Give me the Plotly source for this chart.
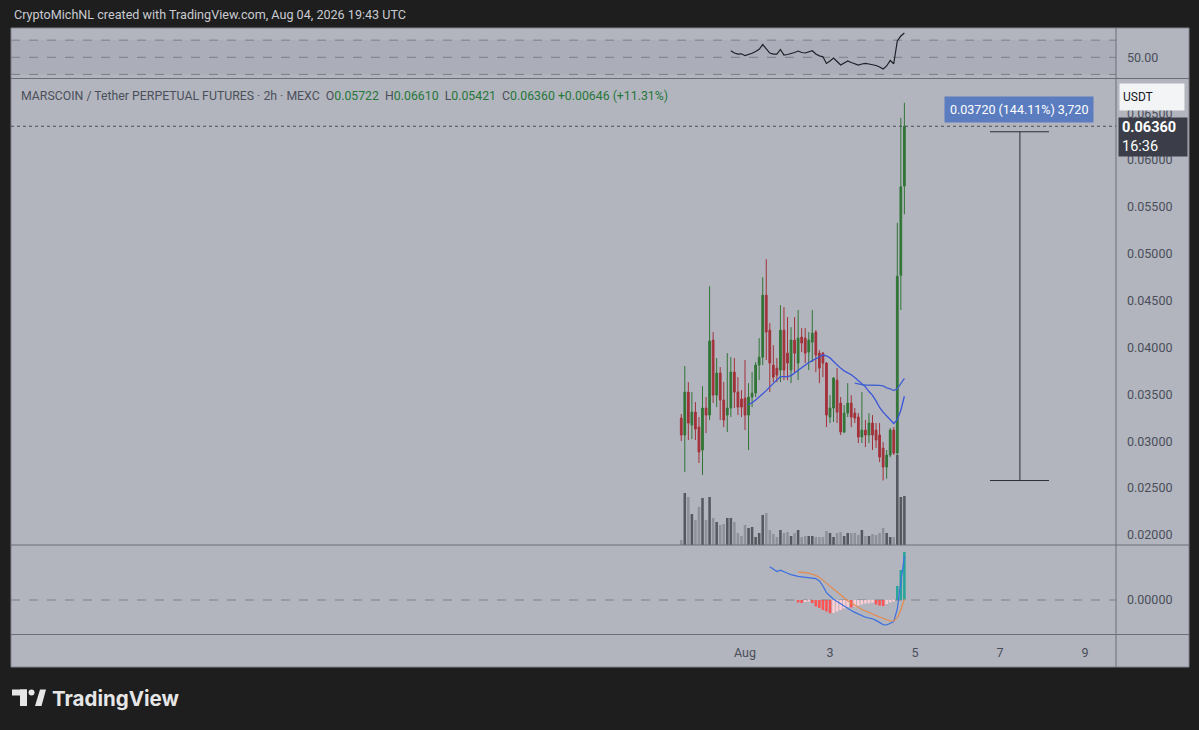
import plotly.graph_objects as go
import pandas as pd

W, H = 1199, 730

# ---------------- data ----------------
start_time = "2026-07-30 12:00"   # first 2h candle
opens = [0.03247, 0.03066, 0.03524, 0.03173, 0.03311, 0.03151, 0.02906, 0.03354, 0.03279, 0.04079,
         0.03492, 0.03727, 0.03439, 0.03279, 0.03354, 0.03738, 0.03524, 0.03450, 0.03460, 0.03279,
         0.03471, 0.03514, 0.03812, 0.03897, 0.04558, 0.04185, 0.03812, 0.03780, 0.03759, 0.04185,
         0.03940, 0.03759, 0.04079, 0.03834, 0.04111, 0.04100, 0.03951, 0.04057, 0.04164, 0.03940,
         0.03940, 0.03834, 0.03258, 0.03354, 0.03652, 0.03407, 0.03098, 0.03300, 0.03407, 0.03300,
         0.03258, 0.03045, 0.03119, 0.03066, 0.03194, 0.03119, 0.03066, 0.02927, 0.02725, 0.02853,
         0.03119, 0.02874, 0.04770, 0.05722]
highs = [0.03290, 0.03802, 0.03631, 0.03524, 0.03418, 0.03258, 0.03588, 0.03471, 0.04654, 0.04164,
         0.03887, 0.03791, 0.03631, 0.03940, 0.03897, 0.03887, 0.03684, 0.03546, 0.03866, 0.03620,
         0.03738, 0.03844, 0.04100, 0.04750, 0.04942, 0.04260, 0.04025, 0.03887, 0.04452, 0.04431,
         0.04324, 0.04217, 0.04324, 0.04399, 0.04207, 0.04207, 0.04164, 0.04399, 0.04185, 0.03972,
         0.03951, 0.03844, 0.03492, 0.03684, 0.03780, 0.03471, 0.03386, 0.03620, 0.03492, 0.03354,
         0.03300, 0.03524, 0.03226, 0.03300, 0.03279, 0.03194, 0.03194, 0.02991, 0.02906, 0.03141,
         0.03151, 0.05330, 0.06450, 0.06610]
lows = [0.03002, 0.02672, 0.03013, 0.03023, 0.03013, 0.02768, 0.02640, 0.03087, 0.03226, 0.03407,
        0.03364, 0.03226, 0.03151, 0.03098, 0.03258, 0.03354, 0.03279, 0.03258, 0.03119, 0.02906,
        0.03364, 0.03471, 0.03652, 0.03812, 0.03866, 0.03524, 0.03631, 0.03631, 0.03631, 0.03652,
        0.03652, 0.03620, 0.03738, 0.03652, 0.03951, 0.03834, 0.03759, 0.03844, 0.03738, 0.03620,
        0.03684, 0.03151, 0.03194, 0.03205, 0.03194, 0.03066, 0.03087, 0.03258, 0.03151, 0.03194,
        0.02981, 0.02981, 0.02938, 0.02981, 0.02906, 0.02927, 0.02778, 0.02581, 0.02600, 0.02831,
        0.02853, 0.02800, 0.04400, 0.05421]
closes = [0.03066, 0.03524, 0.03194, 0.03311, 0.03130, 0.02885, 0.03354, 0.03279, 0.04068, 0.03492,
          0.03727, 0.03439, 0.03226, 0.03354, 0.03738, 0.03524, 0.03364, 0.03364, 0.03279, 0.03471,
          0.03514, 0.03812, 0.03897, 0.04558, 0.04164, 0.03834, 0.03684, 0.03706, 0.04185, 0.03759,
          0.03834, 0.04079, 0.03940, 0.04100, 0.04047, 0.03940, 0.04079, 0.04153, 0.03919, 0.03780,
          0.03834, 0.03279, 0.03354, 0.03674, 0.03311, 0.03098, 0.03300, 0.03407, 0.03258, 0.03247,
          0.03045, 0.03119, 0.03066, 0.03194, 0.03066, 0.03013, 0.02831, 0.02725, 0.02853, 0.03119,
          0.02874, 0.04760, 0.05714, 0.06360]
volumes_m = [0.5, 5.2, 4.8, 3.1, 2.5, 3.8, 4.7, 2.5, 4.8, 2.7,
             2.3, 2.0, 2.1, 2.7, 2.7, 2.3, 1.2, 0.9, 2.0, 1.7,
             1.8, 0.8, 1.2, 3.0, 3.2, 1.5, 1.1, 0.8, 1.5, 1.2,
             1.3, 0.9, 1.2, 1.5, 0.8, 0.9, 0.9, 0.9, 0.8, 0.8,
             0.8, 1.4, 1.2, 0.8, 1.2, 1.3, 0.9, 1.2, 1.2, 1.2,
             1.0, 1.5, 0.9, 0.9, 1.1, 1.0, 1.2, 1.7, 1.2, 0.8,
             0.8, 9.0, 4.8, 4.9]

ma20_start = 19
ma20 = [0.0339, 0.0341, 0.0344, 0.0347, 0.0351, 0.0354, 0.0358, 0.0362, 0.0365, 0.0369,
        0.0369, 0.0369, 0.0370, 0.0373, 0.0376, 0.0379, 0.0381, 0.0384, 0.0386, 0.0388,
        0.0390, 0.0392, 0.0391, 0.0389, 0.0385, 0.0381, 0.0378, 0.0375, 0.0373, 0.0371,
        0.0368, 0.0365, 0.0362, 0.0358, 0.0353, 0.0349, 0.0343, 0.0336, 0.0331, 0.0327,
        0.0323, 0.0319, 0.0323, 0.0333, 0.0348]
ma50_start = 49
ma50 = [0.0362, 0.0361, 0.03605, 0.0360, 0.0360, 0.0360, 0.0360, 0.03595, 0.0359, 0.0357,
        0.0356, 0.0354, 0.0356, 0.0361, 0.0367]

rsi_start = 14
rsi = [57.7, 55.0, 53.8, 54.1, 51.9, 53.1, 54.7, 56.8, 59.4, 64.9,
       60.3, 55.0, 53.8, 53.7, 59.1, 52.7, 53.3, 54.1, 55.6, 57.3,
       55.6, 55.0, 56.2, 57.7, 53.8, 51.7, 50.6, 42.8, 45.7, 49.2,
       45.1, 41.0, 43.4, 45.7, 43.9, 42.2, 41.0, 42.2, 42.8, 42.2,
       41.6, 40.4, 38.7, 36.4, 39.9, 46.3, 42.5, 69.0, 74.8, 78.3]

macd_start = 25
macd = [0.00166, 0.00155, 0.00142, 0.00149, 0.00140, 0.00134, 0.00127, 0.00121, 0.00118, 0.00116,
        0.00114, 0.00113, 0.00112, 0.00107, 0.00095, 0.00070, 0.00037, 0.00020, 0.00004, -0.00007,
        -0.00019, -0.00030, -0.00040, -0.00053, -0.00062, -0.00071, -0.00079, -0.00086, -0.00090, -0.00094,
        -0.00102, -0.00111, -0.00123, -0.00125, -0.00117, -0.00108, -0.00045, 0.00075, 0.00220]
signal_start = 33
signal = [0.00141, 0.00139, 0.00138, 0.00134, 0.00129, 0.00123, 0.00113, 0.00099, 0.00084, 0.00070,
          0.00055, 0.00040, 0.00025, 0.00011, -0.00004, -0.00015, -0.00027, -0.00038, -0.00047, -0.00055,
          -0.00064, -0.00071, -0.00078, -0.00085, -0.00093, -0.00099, -0.00104, -0.00105, -0.00088, -0.00050,
          0.00005]
hist = [-0.00012, -0.00015, -0.00010, -0.00008, -0.00015, -0.00033, -0.00040, -0.00050, -0.00058, -0.00066,
        -0.00065, -0.00058, -0.00050, -0.00042, -0.00034, -0.00038, -0.00032, -0.00027, -0.00022, -0.00018,
        -0.00016, -0.00014, -0.00022, -0.00027, -0.00030, -0.00020, -0.00012, -0.00004, 0.00070, 0.00150,
        0.00240]

price_ticks = [0.020, 0.025, 0.030, 0.035, 0.040, 0.045, 0.050, 0.055, 0.060, 0.065]
time_tick_dates = ["2026-08-01", "2026-08-03", "2026-08-05", "2026-08-07", "2026-08-09"]
time_tick_labels = ["Aug", "3", "5", "7", "9"]

measure_low, measure_high = 0.02581, 0.06301
measure_x0, measure_x1, measure_xm = "2026-08-06 18:20", "2026-08-08 03:40", "2026-08-07 11:15"
measure_text = "0.03720 (144.11%) 3,720"
header_text = "CryptoMichNL created with TradingView.com, Aug 04, 2026 19:43 UTC"
symbol_text = "MARSCOIN / Tether PERPETUAL FUTURES · 2h · MEXC"
countdown = "16:36"

# ---------------- helpers ----------------
times = pd.date_range(start_time, periods=len(opens), freq="2h")
aug1 = pd.Timestamp("2026-08-01")
px_per_day = 42.5


def t_at(px):
    return aug1 + pd.Timedelta(days=(px - 745) / px_per_day)


def py(p):
    return 1 - p / H


def pxx(p):
    return p / W


BG = "#b2b5be"
DARK = "#1e1e1e"
SEP = "#6b6e78"
TXT = "#4a4e5a"
GREEN = "#317536"
RED = "#a3313a"
FONT = "Roboto"

fig = go.Figure()

# volume
vol_colors = ["#55585f" if c >= o else "#8e919a" for o, c in zip(opens, closes)]
fig.add_trace(go.Bar(x=times, y=volumes_m, marker=dict(color=vol_colors, line=dict(width=0)),
                     width=0.72 * 2 * 3600 * 1000, xaxis="x", yaxis="y4", hoverinfo="skip"))

# candles
fig.add_trace(go.Candlestick(x=times, open=opens, high=highs, low=lows, close=closes,
                             increasing=dict(line=dict(color=GREEN, width=1), fillcolor=GREEN),
                             decreasing=dict(line=dict(color=RED, width=1), fillcolor=RED),
                             whiskerwidth=0, xaxis="x", yaxis="y2"))

# moving averages
fig.add_trace(go.Scatter(x=times[ma20_start:ma20_start + len(ma20)], y=ma20, mode="lines",
                         line=dict(color="#3a55d8", width=1.3), xaxis="x", yaxis="y2"))
fig.add_trace(go.Scatter(x=times[ma50_start:ma50_start + len(ma50)], y=ma50, mode="lines",
                         line=dict(color="#3f5fd0", width=1.3), xaxis="x", yaxis="y2"))

# RSI
fig.add_trace(go.Scatter(x=times[rsi_start:rsi_start + len(rsi)], y=rsi, mode="lines",
                         line=dict(color="#1f2128", width=1.2), xaxis="x", yaxis="y"))

# MACD histogram colors
hist_colors = []
prev = None
for v in hist:
    if v >= 0:
        col = "#26a69a" if (prev is None or v >= prev) else "#b2dfdb"
    else:
        col = "#ffcdd2" if (prev is not None and v > prev) else "#ff5252"
    hist_colors.append(col)
    prev = v
fig.add_trace(go.Bar(x=times[signal_start:signal_start + len(hist)], y=hist,
                     marker=dict(color=hist_colors, line=dict(width=0)),
                     width=0.72 * 2 * 3600 * 1000, xaxis="x", yaxis="y3"))
fig.add_trace(go.Scatter(x=times[macd_start:macd_start + len(macd)], y=macd, mode="lines",
                         line=dict(color="#3b6fe0", width=1.2), xaxis="x", yaxis="y3"))
fig.add_trace(go.Scatter(x=times[signal_start:signal_start + len(signal)], y=signal, mode="lines",
                         line=dict(color="#e58a4e", width=1.2), xaxis="x", yaxis="y3"))

# ---------------- axes ----------------
rsi_top, rsi_bot = 28, 78.5
main_top, main_bot = 79.5, 545
macd_top, macd_bot = 545.5, 634

price_per_px = 0.005 / 46.875
main_range = [0.02 - (main_bot - 535) * price_per_px, 0.02 + (535 - main_top) * price_per_px]
rsi_px = 0.8575
rsi_range = [50 - (rsi_bot - 57.3) / rsi_px, 50 + (57.3 - rsi_top) / rsi_px]
macd_px = 0.00005
macd_range = [-(macd_bot - 600) * macd_px, (600 - macd_top) * macd_px]

tickfont = dict(family=FONT, size=12.5, color=TXT)
common_y = dict(side="right", showgrid=False, zeroline=False, showline=False, ticks="",
                ticklabelstandoff=10, tickfont=tickfont, fixedrange=True)

fig.update_layout(
    width=W, height=H, margin=dict(l=0, r=0, t=0, b=0),
    paper_bgcolor=DARK, plot_bgcolor="rgba(0,0,0,0)", showlegend=False,
    xaxis=dict(domain=[pxx(11), pxx(1116)], anchor="y3", type="date",
               range=[t_at(11), t_at(1116)], showgrid=False, zeroline=False, showline=False,
               ticks="", tickvals=pd.to_datetime(time_tick_dates), ticktext=time_tick_labels,
               tickfont=dict(family=FONT, size=12.5, color=TXT), ticklabelstandoff=9,
               rangeslider=dict(visible=False), fixedrange=True),
    yaxis=dict(domain=[py(rsi_bot), py(rsi_top)], anchor="x", range=rsi_range,
               tickvals=[50], ticktext=["50.00"], **common_y),
    yaxis2=dict(domain=[py(main_bot), py(main_top)], anchor="x", range=main_range,
                tickvals=price_ticks, tickformat=".5f", **common_y),
    yaxis3=dict(domain=[py(macd_bot), py(macd_top)], anchor="x", range=macd_range,
                tickvals=[0], ticktext=["0.00000"], **common_y),
    yaxis4=dict(domain=[py(main_bot), py(main_top)], anchor="x", overlaying="y2",
                range=[0, (main_bot - main_top) / 10], visible=False, fixedrange=True),
)

# ---------------- shapes ----------------
shapes = []
shapes.append(dict(type="rect", xref="paper", yref="paper", x0=pxx(11), x1=pxx(1189),
                   y0=py(667), y1=py(28), fillcolor=BG, line=dict(color="#82858f", width=1),
                   layer="below"))
# RSI band
shapes.append(dict(type="rect", xref="paper", yref="y", x0=pxx(11), x1=pxx(1116), y0=30, y1=70,
                   fillcolor="rgba(90,92,110,0.08)", line=dict(width=0), layer="below"))
for lvl in (70, 50, 30):
    shapes.append(dict(type="line", xref="paper", yref="y", x0=pxx(11), x1=pxx(1116), y0=lvl, y1=lvl,
                       line=dict(color="#7c7f89", width=1, dash="dash"), layer="below"))
shapes.append(dict(type="line", xref="paper", yref="y3", x0=pxx(11), x1=pxx(1116), y0=0, y1=0,
                   line=dict(color="#7c7f89", width=1, dash="dash"), layer="below"))
# pane separators
for yy in (78.5, 545, 634.5):
    shapes.append(dict(type="line", xref="paper", yref="paper", x0=pxx(11), x1=pxx(1189),
                       y0=py(yy), y1=py(yy), line=dict(color=SEP, width=1)))
shapes.append(dict(type="line", xref="paper", yref="paper", x0=pxx(1116), x1=pxx(1116),
                   y0=py(667), y1=py(28), line=dict(color=SEP, width=1)))
# current price dotted line
shapes.append(dict(type="line", xref="paper", yref="y2", x0=pxx(11), x1=pxx(1116),
                   y0=closes[-1], y1=closes[-1], line=dict(color="#4a4e5a", width=1, dash="dot")))
# measure tool
mline = dict(color="#2a2e39", width=1)
shapes.append(dict(type="line", xref="x", yref="y2", x0=measure_xm, x1=measure_xm,
                   y0=measure_low, y1=measure_high, line=mline))
for lvl in (measure_low, measure_high):
    shapes.append(dict(type="line", xref="x", yref="y2", x0=measure_x0, x1=measure_x1,
                       y0=lvl, y1=lvl, line=mline))
xm = pd.Timestamp(measure_xm)
dx = pd.Timedelta(hours=2.8)
dy = 6 * price_per_px
shapes.append(dict(type="path", xref="x", yref="y2",
                   path=f"M {(xm - dx).strftime('%Y-%m-%d %H:%M:%S')},{measure_high - dy} "
                        f"L {xm.strftime('%Y-%m-%d %H:%M:%S')},{measure_high} "
                        f"L {(xm + dx).strftime('%Y-%m-%d %H:%M:%S')},{measure_high - dy}",
                   line=mline))
# TradingView logo glyph
logo_col = "#e6e6e6"
shapes.append(dict(type="rect", xref="paper", yref="paper", x0=pxx(12), x1=pxx(27), y0=py(695.5),
                   y1=py(689.5), fillcolor=logo_col, line=dict(width=0)))
shapes.append(dict(type="rect", xref="paper", yref="paper", x0=pxx(20), x1=pxx(27), y0=py(706),
                   y1=py(689.5), fillcolor=logo_col, line=dict(width=0)))
shapes.append(dict(type="circle", xref="paper", yref="paper", x0=pxx(28.5), x1=pxx(34.5),
                   y0=py(695.5), y1=py(689.5), fillcolor=logo_col, line=dict(width=0)))
shapes.append(dict(type="path", xref="paper", yref="paper",
                   path=f"M {pxx(35)},{py(706)} L {pxx(40)},{py(689.5)} L {pxx(46)},{py(689.5)} "
                        f"L {pxx(41.5)},{py(706)} Z", fillcolor=logo_col, line=dict(width=0)))
fig.update_layout(shapes=shapes)

# ---------------- annotations ----------------
green_t = "#26773a"
nb = "\u00a0"


def val(s):
    return f"<span style='color:{green_t}'>{s}</span>"


chg = closes[-1] - closes[-2]
pct = chg / closes[-2] * 100
legend_text = (f"{symbol_text}{nb}{nb}O{val(f'{opens[-1]:.5f}')}{nb}{nb}H{val(f'{highs[-1]:.5f}')}"
               f"{nb}{nb}L{val(f'{lows[-1]:.5f}')}{nb}{nb}C{val(f'{closes[-1]:.5f}')}{nb}"
               f"{val(f'{chg:+.5f} ({pct:+.2f}%)')}")

ann = []
ann.append(dict(xref="paper", yref="paper", x=pxx(12), y=py(15), xanchor="left", yanchor="middle",
                text=header_text, showarrow=False, font=dict(family=FONT, size=12.6, color="#c9cbd1")))
ann.append(dict(xref="paper", yref="paper", x=pxx(19), y=py(96), xanchor="left", yanchor="middle",
                text=legend_text, showarrow=False, font=dict(family=FONT, size=12.3, color="#4b4f5b")))
ann.append(dict(xref="paper", yref="paper", x=pxx(1019), y=py(109.5), xanchor="center",
                yanchor="middle", text=measure_text, showarrow=False, bgcolor="#5b7dbf",
                borderpad=5, font=dict(family=FONT, size=12.5, color="white")))
ann.append(dict(xref="paper", yref="paper", x=pxx(1118), y=py(137), xanchor="left", yanchor="middle",
                text=f"<b>{closes[-1]:.5f}</b><br>{countdown}", showarrow=False, bgcolor="#3b3e48",
                width=62, height=32, borderpad=3, align="left",
                font=dict(family=FONT, size=14.5, color="white")))
ann.append(dict(xref="paper", yref="paper", x=pxx(1119), y=py(97), xanchor="left", yanchor="middle",
                text="USDT", showarrow=False, bgcolor="#f3f4f6", width=58, height=20, borderpad=3,
                align="left", font=dict(family=FONT, size=12, color="#131722")))
ann.append(dict(xref="paper", yref="paper", x=pxx(50), y=py(698), xanchor="left", yanchor="middle",
                text="<b>TradingView</b>", showarrow=False,
                font=dict(family="Inter", size=20.5, color=logo_col)))
fig.update_layout(annotations=ann)

fig.write_html("out.html", config={"displayModeBar": False},
               post_script="document.body.style.margin='0';document.body.style.padding='0';"
                           "document.body.style.overflow='hidden';")
